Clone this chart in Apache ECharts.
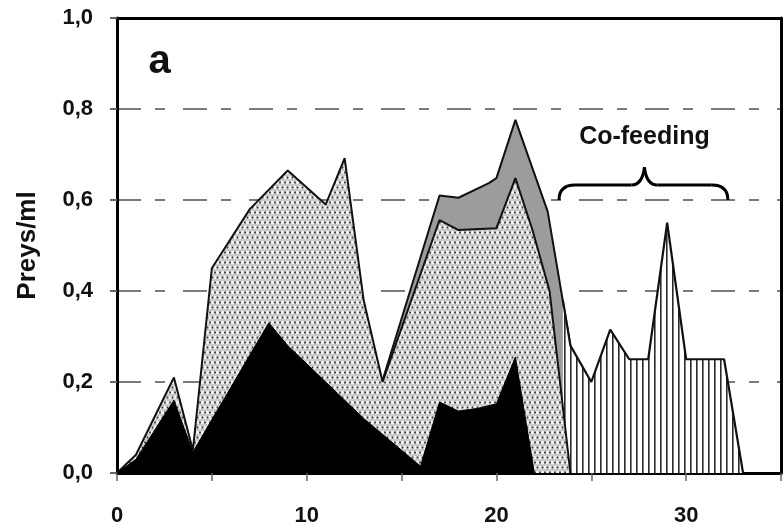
<!DOCTYPE html>
<html><head><meta charset="utf-8">
<script src="https://cdn.jsdelivr.net/npm/echarts@6/dist/echarts.min.js"></script>
<style>html,body{margin:0;padding:0;background:#fff}#c{width:784px;height:531px}</style>
</head><body><div id="c"></div>
<script>
// ---- data ----
const xTickLabels = [0, 10, 20, 30];
const yTicks = [0, 0.2, 0.4, 0.6, 0.8, 1.0];
const blackPrey = [[0,0],[1,0.03],[3,0.16],[4,0.046],[8,0.33],[9,0.28],[13,0.12],[16,0.015],[17,0.156],[18,0.136],[19,0.142],[20,0.152],[21,0.255],[22,0]];
const dottedTop = [[0,0],[1,0.04],[3,0.21],[4,0.05],[5,0.45],[7,0.58],[9,0.665],[11,0.59],[12,0.692],[13,0.38],[14,0.2],[17,0.556],[18,0.534],[20,0.538],[21,0.648],[21.9,0.534],[22.8,0.4],[23.9,0]];
const grayTop = [[14,0.204],[17,0.61],[18,0.605],[19.6,0.637],[20,0.648],[21,0.776],[22.7,0.575],[23.9,0.28]];
const coFeeding = [[23.5,0.38],[23.9,0.28],[25,0.2],[26,0.315],[27,0.25],[28,0.25],[29,0.55],[30,0.25],[32,0.25],[33,0]];

const FONT = '"Liberation Sans", Arial, sans-serif';

function dotPattern(){
  const c=document.createElement('canvas');c.width=10;c.height=10;
  const g=c.getContext('2d');
  g.fillStyle='#c9c9c9';g.fillRect(0,0,10,10);
  g.fillStyle='#f2f2f2';
  [[2.5,2.5],[7.5,2.5],[0,7.5],[5,7.5],[10,7.5]].forEach(p=>{g.beginPath();g.arc(p[0],p[1],1.7,0,Math.PI*2);g.fill();});
  g.fillStyle='#383838';
  [[0,2.5],[5,2.5],[10,2.5],[2.5,7.5],[7.5,7.5]].forEach(p=>{g.beginPath();g.arc(p[0],p[1],1.0,0,Math.PI*2);g.fill();});
  return c;
}
function stripePattern(){
  const c=document.createElement('canvas');c.width=6;c.height=6;
  const g=c.getContext('2d');
  g.fillStyle='#ffffff';g.fillRect(0,0,6,6);
  g.fillStyle='#2a2a2a';g.fillRect(0,0,1.6,6);
  return c;
}

const GRID_COL='#7a7a7a';
const chart = echarts.init(document.getElementById('c'), null, {renderer:'canvas'});
const option = {
  animation:false,
  backgroundColor:'#fff',
  grid:{left:117,right:2,top:18,bottom:58,show:false},
  xAxis:[{
    type:'value',min:0,max:35,interval:5,
    axisLine:{show:true,onZero:false,lineStyle:{color:'#000',width:3}},
    axisTick:{show:true,length:8,lineStyle:{color:'#666',width:1.5}},
    axisLabel:{margin:32,color:'#111',fontFamily:FONT,fontWeight:'bold',fontSize:22,
      formatter:v=>xTickLabels.includes(v)?String(v):''},
    splitLine:{show:false}
  },{
    type:'value',min:0,max:35,position:'top',
    axisLine:{show:true,onZero:false,lineStyle:{color:'#000',width:3}},
    axisTick:{show:false},axisLabel:{show:false},splitLine:{show:false}
  }],
  yAxis:[{
    type:'value',min:0,max:1,interval:0.2,
    name:'Preys/ml',nameLocation:'middle',nameGap:76,nameRotate:90,
    nameTextStyle:{color:'#111',fontFamily:FONT,fontWeight:'bold',fontSize:26},
    axisLine:{show:true,onZero:false,lineStyle:{color:'#000',width:3}},
    axisTick:{show:true,length:7,lineStyle:{color:'#666',width:2}},
    axisLabel:{margin:24,color:'#111',fontFamily:FONT,fontWeight:'bold',fontSize:22,
      formatter:v=>yTicks.some(t=>Math.abs(t-v)<1e-9)?v.toFixed(1).replace('.',','):''},
    splitLine:{show:true,lineStyle:{color:[GRID_COL,GRID_COL,GRID_COL,GRID_COL,GRID_COL,'rgba(0,0,0,0)'],width:2,type:[24,14,10,18]}}
  },{
    type:'value',min:0,max:1,position:'right',
    axisLine:{show:true,onZero:false,lineStyle:{color:'#000',width:3}},
    axisTick:{show:false},axisLabel:{show:false},splitLine:{show:false}
  }],
  series:[
    {name:'gray',type:'line',data:grayTop,showSymbol:false,z:2,
      lineStyle:{color:'#111',width:2},areaStyle:{color:'#9c9c9c',opacity:1}},
    {name:'cofeeding',type:'line',data:coFeeding,showSymbol:false,z:3,
      lineStyle:{color:'#111',width:2.2},areaStyle:{color:{image:stripePattern(),repeat:'repeat'},opacity:1}},
    {name:'dotted',type:'line',data:dottedTop,showSymbol:false,z:4,
      lineStyle:{color:'#111',width:2},areaStyle:{color:{image:dotPattern(),repeat:'repeat'},opacity:1}},
    {name:'black',type:'line',data:blackPrey,showSymbol:false,z:5,
      lineStyle:{color:'#000',width:1},areaStyle:{color:'#000',opacity:1}}
  ]
};
chart.setOption(option);

const P=(x,y)=>chart.convertToPixel({xAxisIndex:0,yAxisIndex:0},[x,y]);
const L=P(23.3,0.6), R=P(32.2,0.6), C=P(27.8,0.672), H=P(0,0.633)[1];
const br={stroke:'#000',lineWidth:3,fill:null};
const T=P(27.8,0.738), A=P(2.25,0.903);
chart.setOption({graphic:[
  {type:'bezierCurve',shape:{x1:L[0],y1:L[1],cpx1:L[0],cpy1:H,x2:L[0]+16,y2:H},style:br,z:10},
  {type:'line',shape:{x1:L[0]+16,y1:H,x2:C[0]-13,y2:H},style:br,z:10},
  {type:'bezierCurve',shape:{x1:C[0]-13,y1:H,cpx1:C[0]-2,cpy1:H,x2:C[0],y2:C[1]},style:br,z:10},
  {type:'bezierCurve',shape:{x1:C[0],y1:C[1],cpx1:C[0]+2,cpy1:H,x2:C[0]+13,y2:H},style:br,z:10},
  {type:'line',shape:{x1:C[0]+13,y1:H,x2:R[0]-16,y2:H},style:br,z:10},
  {type:'bezierCurve',shape:{x1:R[0]-16,y1:H,cpx1:R[0],cpy1:H,x2:R[0],y2:R[1]},style:br,z:10},
  {type:'text',x:T[0],y:T[1],style:{text:'Co-feeding',font:'bold 25px '+FONT,fill:'#111',align:'center',verticalAlign:'middle'},z:10},
  {type:'text',x:A[0],y:A[1],style:{text:'a',font:'bold 40px '+FONT,fill:'#111',align:'center',verticalAlign:'middle'},z:10}
]});
</script></body></html>
